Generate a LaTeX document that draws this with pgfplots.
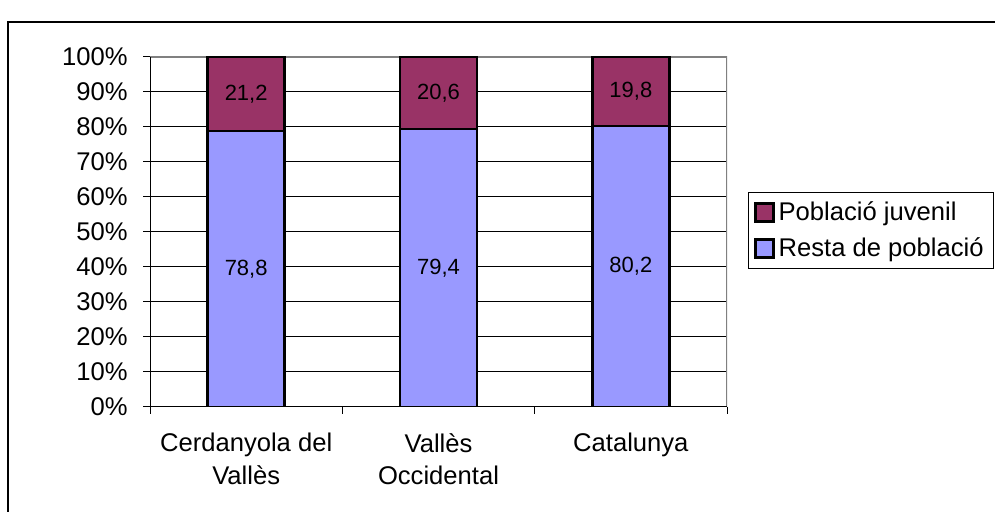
\documentclass[border=0pt]{standalone}
\usepackage{pgfplots}
\pgfplotsset{compat=1.18}
\usepackage{fontspec}
\setmainfont{Liberation Sans}
\definecolor{juv}{HTML}{993366}
\definecolor{resta}{HTML}{9999FF}
\begin{document}
\begin{tikzpicture}
\useasboundingbox (0,0) rectangle (497.5pt,256pt);
\draw[line width=1pt] (4pt,-20pt) -- (4pt,245pt) -- (520pt,245pt);
\begin{axis}[
  at={(75pt,52.5pt)}, anchor=south west,
  width=288.5pt, height=175pt, scale only axis,
  /pgf/number format/assume math mode=true,
  ybar stacked, bar width=38.5pt,
  xmin=-0.5, xmax=2.5, ymin=0, ymax=100,
  xtick={-0.5,0.5,1.5,2.5}, xticklabels={},
  extra x ticks={0,1,2},
  extra x tick labels={{Cerdanyola del\\Vallès},{Vallès\\Occidental},{Catalunya}},
  extra x tick style={major tick length=0pt, tick style={draw=none},
     ticklabel style={align=center, font=\fontsize{12.8}{16.2}\selectfont, inner sep=0pt, yshift=-13pt}},
  ytick={0,10,...,100},
  yticklabel={\pgfmathprintnumber{\tick}\%},
  yticklabel style={font=\fontsize{12.8}{15}\selectfont, inner sep=0pt, xshift=-7.5pt},
  tick align=outside, major tick length=3.5pt,
  tick style={black, line width=0.5pt},
  tick pos=left,
  axis line style={draw=none},
  ymajorgrids, major grid style={black, line width=0.5pt},
  point meta=rawy,
  nodes near coords={\pgfmathprintnumber[fixed,fixed zerofill,precision=1,use comma]{\pgfplotspointmeta}},
  nodes near coords align=center,
  every node near coord/.append style={anchor=center, black, font=\fontsize{11}{13}\selectfont},
  legend style={at={(1.036,0.614)}, anchor=north west, draw=black, line width=0.5pt,
     font=\fontsize{12.8}{15}\selectfont, row sep=3pt, inner xsep=3pt, inner ysep=2.5pt},
  legend cell align=left,
  reverse legend,
  legend image code/.code={\draw[#1, line width=1.2pt] (0pt,-4.5pt) rectangle (9pt,4.5pt);},
]
\addplot[fill=resta, draw=black, line width=1.2pt] coordinates {(0,78.8) (1,79.4) (2,80.2)};
\addlegendentry{Resta de població}
\addplot[fill=juv, draw=black, line width=1.2pt] coordinates {(0,21.2) (1,20.6) (2,19.8)};
\addlegendentry{Població juvenil}
\draw[black, line width=0.5pt] (rel axis cs:0,1) -- (rel axis cs:0,0) -- (rel axis cs:1,0);
\draw[gray, line width=1pt] (rel axis cs:0,1) -- (rel axis cs:1,1) -- (rel axis cs:1,0);
\end{axis}
\end{tikzpicture}
\end{document}
